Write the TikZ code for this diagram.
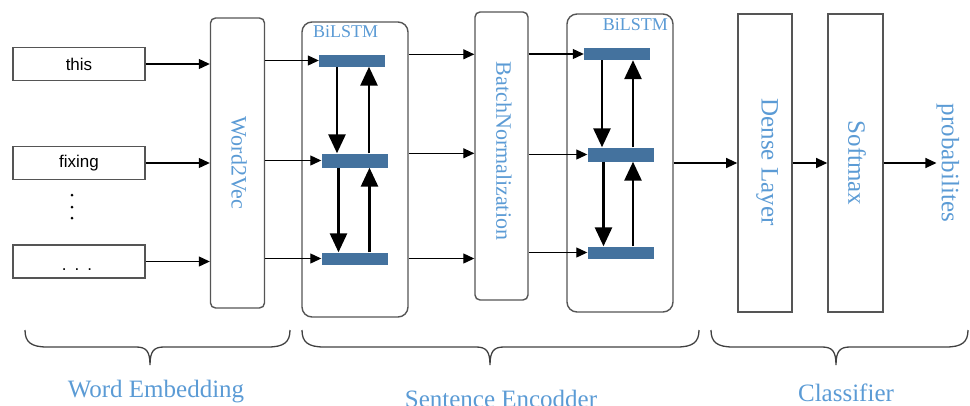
\documentclass[tikz,border=0pt]{standalone}
\usepackage{fontspec}
\setmainfont{Liberation Serif}
\newfontfamily\wordfont{Liberation Sans}
\usetikzlibrary{arrows.meta,calc}
\definecolor{lblue}{RGB}{91,155,213}
\definecolor{bblue}{RGB}{68,114,158}
\definecolor{edgegray}{RGB}{85,85,85}
\newcommand\mybrace[3]{%
  \draw[brace] (#1,330) .. controls (#1,342) and ({#1+6},347) .. ({#1+22},347)
    -- ({#3-14},347) .. controls ({#3-4},347) and (#3,351) .. (#3,365)
    .. controls (#3,351) and ({#3+4},347) .. ({#3+14},347)
    -- ({#2-22},347) .. controls ({#2-6},347) and (#2,342) .. (#2,330);}
\begin{document}
\begin{tikzpicture}[x=1pt,y=-1pt,
  box/.style={draw=edgegray,line width=1.4pt,fill=white,inner sep=0pt},
  wordbox/.style={box,minimum width=132pt,minimum height=33pt,font=\wordfont\fontsize{17}{20}\selectfont},
  tallbox/.style={box,rounded corners=5pt,minimum width=54pt},
  lstmbox/.style={box,rounded corners=10pt,minimum width=106pt},
  sharpbox/.style={box,line width=1.6pt,minimum width=55pt,minimum height=298pt},
  bar/.style={fill=bblue,minimum width=66pt,minimum height=12pt,inner sep=0pt},
  lab/.style={text=lblue,font=\fontsize{25}{30}\selectfont,inner sep=0pt},
  vlab/.style={lab,rotate=-90},
  slab/.style={text=lblue,font=\fontsize{22}{26}\selectfont,inner sep=0pt,rotate=-90},
  toplab/.style={text=lblue,font=\fontsize{18}{21}\selectfont,inner sep=0pt},
  conn/.style={-{Triangle[length=11pt,width=10pt]},line width=1.1pt},
  rec/.style={-{Triangle[length=19pt,width=17pt]},line width=2.8pt},
  brace/.style={line width=1.3pt,draw=black!75}]
\useasboundingbox (0,0) rectangle (970,405);
\clip (0,0) rectangle (970,405);

% word boxes
\node[wordbox] (w1) at (79,64) {this};
\node[wordbox] (w2) at (79,163) {fixing};
\node[wordbox] (w3) at (79,261.5) {};
\node[font=\wordfont\fontsize{17}{20}\selectfont,inner sep=0pt,anchor=base] (w3t) at (77,270) {.\hspace{8pt}.\hspace{8pt}.};
\foreach \yy in {195,207,218} \fill (72,\yy) circle (1.5pt);

% Word2Vec
\node[tallbox,minimum height=290pt] (w2v) at (237.5,163) {};
\node[slab] (w2vl) at (239,163) {Word2Vec};

% BiLSTM 1
\node[lstmbox,minimum height=295pt] (l1) at (355,169.5) {};
\node[toplab,anchor=base west] (l1l) at (313,37) {BiLSTM};
\node[bar] (b11) at (352,60.5) {};
\node[bar,minimum height=14pt] (b12) at (354.5,160.5) {};
\node[bar] (b13) at (354.5,258.5) {};

% BatchNormalization
\node[tallbox,minimum width=53pt,minimum height=288pt] (bn) at (501.5,156) {};
\node[slab] (bnl) at (504,151) {BatchNormalization};

% BiLSTM 2
\node[lstmbox,minimum height=298pt] (l2) at (620,163) {};
\node[toplab,anchor=base east] (l2l) at (668,30) {BiLSTM};
\node[bar] (b21) at (617,54) {};
\node[bar,minimum height=14pt] (b22) at (620.5,154.5) {};
\node[bar] (b23) at (620.5,252.5) {};

% classifier
\node[sharpbox,minimum width=54pt] (dl) at (765,163) {};
\node[vlab] (dll) at (767,162) {Dense Layer};
\node[sharpbox] (sm) at (855.5,163) {};
\node[vlab] (sml) at (857,163) {Softmax};
\node[vlab] (prob) at (948,163) {probabilites};

% connectors
\draw[conn] (w1.east) -- (w1.east -| w2v.west);
\draw[conn] (w2.east) -- (w2.east -| w2v.west);
\draw[conn] (w3.east) -- (w3.east -| w2v.west);
\draw[conn] (w2v.east |- b11.west) -- (b11.west);
\draw[conn] (w2v.east |- b12.west) -- (b12.west);
\draw[conn] (w2v.east |- b13.west) -- (b13.west);
\draw[conn] (l1.east |- b11.north) -- (bn.west |- b11.north);
\draw[conn] (l1.east |- b12.north) -- (bn.west |- b12.north);
\draw[conn] (l1.east |- b13) -- (bn.west |- b13);
\draw[conn] (bn.east |- b21.west) -- (b21.west);
\draw[conn] (bn.east |- b22.west) -- (b22.west);
\draw[conn] (bn.east |- b23.west) -- (b23.west);
\draw[conn] (l2.east) -- (dl.west);
\draw[conn] (dl.east) -- (sm.west);
\draw[conn] (sm.east) -- (prob.south);

% recurrent arrows BiLSTM 1
\draw[rec] ($(b11.south)+(-15,0)$) -- ($(b11.south |- b12.north)+(-15,0)$);
\draw[rec] ($(b11.south |- b12.north)+(17,0)$) -- ($(b11.south)+(17,0)$);
\draw[rec] ($(b12.south)+(-16,0)$) -- ($(b12.south |- b13.north)+(-16,0)$);
\draw[rec] ($(b12.south |- b13.north)+(15,0)$) -- ($(b12.south)+(15,0)$);
% recurrent arrows BiLSTM 2
\draw[rec] ($(b21.south)+(-15,0)$) -- ($(b21.south |- b22.north)+(-15,0)$);
\draw[rec] ($(b21.south |- b22.north)+(16,0)$) -- ($(b21.south)+(16,0)$);
\draw[rec] ($(b22.south)+(-17,0)$) -- ($(b22.south |- b23.north)+(-17,0)$);
\draw[rec] ($(b22.south |- b23.north)+(12.5,0)$) -- ($(b22.south)+(12.5,0)$);

% braces
\mybrace{25}{290}{150}
\mybrace{302}{699}{490}
\mybrace{711}{968}{836}

\node[lab,anchor=base] (g1) at (156,397) {Word Embedding};
\node[lab,anchor=base] (g2) at (501,407) {Sentence Encodder};
\node[lab,anchor=base] (g3) at (846,401) {Classifier};
\end{tikzpicture}
\end{document}
